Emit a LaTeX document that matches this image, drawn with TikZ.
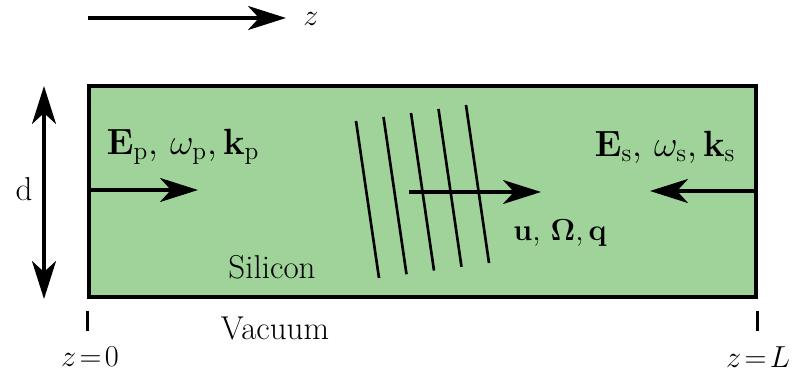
\documentclass[tikz,border=0pt]{standalone}
\usepackage{amsmath,amssymb}
\usepackage{xcolor}
\usepackage{tikz}
\usetikzlibrary{arrows.meta}
\definecolor{sigreen}{RGB}{160,211,153}

\begin{document}
\begin{tikzpicture}[
  font=\fontsize{18.8}{22}\selectfont, >={Stealth[length=7.6mm, width=4.8mm, inset=2.2mm]},
  wire/.style={line width=2pt},
  slab/.style={draw, line width=1.9pt, fill=sigreen, minimum width=13.34cm, minimum height=4.22cm, inner sep=0pt},
  front/.style={line width=1.5pt},
  lbl/.style={inner sep=1pt},
  field/.style={lbl, font=\fontsize{20}{24}\selectfont},
  small/.style={lbl, font=\fontsize{16.5}{19}\selectfont},
  tick/.style={line width=1.8pt}]
  \useasboundingbox (0,0) rectangle (15.84,7.5);
  \node[slab] (si) at (8.45,3.67) {};
  % propagation direction
  \coordinate (zs) at (1.76,7.14);
  \coordinate (ze) at (5.72,7.14);
  \draw[wire,->] (zs) -- (ze);
  \node[small] (zax) at (6.22,7.12) {$z$};
  % thickness
  \coordinate (db) at (0.88,1.52);
  \coordinate (dt) at (0.88,5.78);
  \draw[wire,<->] (db) -- (dt);
  \node[lbl] (dlab) at (0.48,3.72) {d};
  % pump and signal
  \coordinate (pin) at (si.west |- 0,3.70);
  \coordinate (pout) at (3.96,3.70);
  \draw[wire,->] (pin) -- (pout);
  \node[field] (pump) at (3.66,4.56) {$\mathbf{E}_{\mathrm{p}},\, \omega_{\mathrm{p}}, \mathbf{k}_{\mathrm{p}}$};
  \coordinate (sin) at (si.east |- 0,3.68);
  \coordinate (sout) at (13.0,3.68);
  \draw[wire,->] (sin) -- (sout);
  \node[field] (stokes) at (13.3,4.56) {$\mathbf{E}_{\mathrm{s}},\, \omega_{\mathrm{s}}, \mathbf{k}_{\mathrm{s}}$};
  % acoustic wave fronts
  \foreach \i in {0,...,4}
    \draw[front] (7.12+0.55*\i,5.08+0.08*\i) -- (7.58+0.55*\i,1.94+0.075*\i);
  \coordinate (ain) at (8.18,3.66);
  \coordinate (aout) at (10.82,3.66);
  \draw[wire,->] (ain) -- (aout);
  \node[lbl] (phonon) at (11.2,2.84) {$\mathbf{u},\, \mathbf{\Omega}, \mathbf{q}$};
  % media
  \node[lbl] (silab) at (5.44,2.16) {Silicon};
  \node[lbl] (vac) at (5.5,0.94) {Vacuum};
  % ends of the slab
  \coordinate (t0a) at (si.west |- 0,1.28);
  \coordinate (t0b) at (si.west |- 0,0.88);
  \draw[tick] (t0a) -- (t0b);
  \coordinate (tLa) at (si.east |- 0,1.28);
  \coordinate (tLb) at (si.east |- 0,0.88);
  \draw[tick] (tLa) -- (tLb);
  \node[small] (z0) at (1.8,0.36) {$z\!=\!0$};
  \node[small] (zL) at (15.16,0.36) {$z\!=\!L$};
\end{tikzpicture}
\end{document}
